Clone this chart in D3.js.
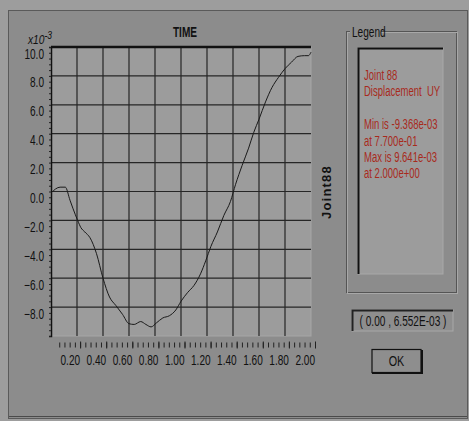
<!DOCTYPE html>
<html>
<head>
<meta charset="utf-8">
<script src="https://cdn.jsdelivr.net/npm/d3@7"></script>
<style>
  body { margin: 0; background: #9a9a9a; }
  svg { display: block; }
  text { font-family: "Liberation Sans", Arial, sans-serif; }
</style>
</head>
<body>
<div id="chart-area"></div>
<script>
// time history of Joint 88, displacement UY (x10^-3)
const time = [0, 0.07, 0.11, 0.146, 0.17, 0.205, 0.23, 0.26, 0.3, 0.35, 0.4, 0.45, 0.5, 0.55, 0.6, 0.64, 0.69, 0.73, 0.77, 0.81, 0.86, 0.91, 0.96, 1.0, 1.05, 1.1, 1.15, 1.19, 1.23, 1.28, 1.33, 1.38, 1.42, 1.47, 1.52, 1.56, 1.6, 1.65, 1.7, 1.75, 1.8, 1.85, 1.9, 1.95, 1.98, 2.0];
const uy = [-0.1, 0.3, 0.3, -0.6, -1.2, -2.0, -2.5, -2.8, -3.2, -4.3, -6.0, -7.3, -7.9, -8.5, -9.15, -9.2, -9.0, -9.2, -9.37, -9.1, -8.75, -8.6, -8.2, -7.6, -7.0, -6.5, -5.7, -4.8, -3.8, -2.8, -1.65, -0.7, 0.5, 1.8, 3.0, 4.1, 5.0, 6.2, 7.2, 7.9, 8.5, 8.95, 9.35, 9.4, 9.4, 9.64];

const xTicks = [0.2, 0.4, 0.6, 0.8, 1.0, 1.2, 1.4, 1.6, 1.8, 2.0];
const yTicks = [10, 8, 6, 4, 2, 0, -2, -4, -6, -8];
const legendLines = ["Joint 88", "Displacement  UY", "", "Min is -9.368e-03", "at 7.700e-01", "Max is 9.641e-03", "at 2.000e+00"];
const cursorText = "( 0.00 , 6.552E-03 )";

const W = 469, H = 421;
const plot = {left: 51, right: 311, top: 47, bottom: 336};
const narrow = 0.72;   // old dialog font is very condensed

const svg = d3.select("#chart-area").append("svg")
    .attr("width", W).attr("height", H);

// condensed text helper
function label(parent, x, y, str, size, anchor, fill, sx) {
    return parent.append("text")
        .attr("transform", `translate(${x},${y}) scale(${sx || narrow},1)`)
        .attr("font-size", size)
        .attr("text-anchor", anchor || "start")
        .attr("fill", fill || "#111")
        .attr("xml:space", "preserve")
        .text(str);
}

// dialog frame
svg.append("rect").attr("x", 0).attr("y", 0).attr("width", W).attr("height", H).attr("fill", "#9d9d9d");
svg.append("rect").attr("x", 8.5).attr("y", 10.5).attr("width", 459).attr("height", 408)
   .attr("fill", "#8c8c8c").attr("stroke", "#5a5a5a").attr("stroke-width", 1);
svg.append("line").attr("x1", 9).attr("x2", 467).attr("y1", 416.5).attr("y2", 416.5).attr("stroke", "#4a4a4a");

var xScale = d3.scaleLinear().domain([0, 2]).range([plot.left, plot.right]);
var yScale = d3.scaleLinear().domain([-10, 10]).range([plot.bottom, plot.top]);
// the ruler under the plot sits a little to the right of the grid
var rulerScale = d3.scaleLinear().domain([0, 2]).range([54, 315]);

// plot background
svg.append("rect")
   .attr("x", plot.left).attr("y", plot.top)
   .attr("width", plot.right - plot.left).attr("height", plot.bottom - plot.top)
   .attr("fill", "#9c9c9c").attr("stroke", "#a6a6a6");

// grid
svg.append("g").selectAll("line").data(xTicks.slice(0, -1)).enter().append("line")
   .attr("x1", d => xScale(d)).attr("x2", d => xScale(d))
   .attr("y1", plot.top).attr("y2", plot.bottom)
   .attr("stroke", "#262626").attr("stroke-width", 1.2);
svg.append("g").selectAll("line").data(yTicks.slice(1)).enter().append("line")
   .attr("x1", plot.left).attr("x2", plot.right)
   .attr("y1", d => yScale(d)).attr("y2", d => yScale(d))
   .attr("stroke", "#262626").attr("stroke-width", 1.2);

// top border + left axis
svg.append("line").attr("x1", plot.left).attr("x2", plot.right).attr("y1", plot.top).attr("y2", plot.top)
   .attr("stroke", "#111").attr("stroke-width", 2.5);

var yAxis = d3.axisLeft(yScale)
    .tickValues(d3.range(-10, 10.01, 0.4))
    .tickSize(2).tickFormat("");
svg.append("g").attr("transform", `translate(${plot.left},0)`).call(yAxis)
   .call(g => g.select(".domain").attr("stroke", "#111").attr("stroke-width", 1.5))
   .call(g => g.selectAll(".tick line").attr("stroke", "#222"));

var yLabels = svg.append("g");
yTicks.forEach(d => label(yLabels, 44, yScale(d) + 11.5, d3.format(".1f")(d), 14, "end"));

// x ruler
var rulerMinor = d3.axisBottom(rulerScale).tickValues(d3.range(0.04, 2.001, 0.04)).tickSize(5).tickFormat("");
svg.append("g").attr("transform", "translate(0,342.5)").call(rulerMinor)
   .call(g => g.select(".domain").remove())
   .call(g => g.selectAll(".tick line").attr("stroke", "#222"));
var rulerMajor = d3.axisBottom(rulerScale).tickValues(xTicks).tickSize(7).tickFormat("");
svg.append("g").attr("transform", "translate(0,341.5)").call(rulerMajor)
   .call(g => g.select(".domain").remove())
   .call(g => g.selectAll(".tick line").attr("stroke", "#222"));
var xLabels = svg.append("g");
xTicks.forEach(d => label(xLabels, rulerScale(d), 365, d3.format(".2f")(d), 14, "end"));

// curve
var line = d3.line().x((d, i) => xScale(time[i])).y(d => yScale(d)).curve(d3.curveMonotoneX);
svg.append("path").datum(uy).attr("d", line)
   .attr("fill", "none").attr("stroke", "#1a1a1a").attr("stroke-width", 1);

// titles
label(svg, 185, 37, "TIME", 14, "middle").attr("font-weight", "bold");
var mult = svg.append("text")
   .attr("transform", "translate(28,44) scale(0.85,1)")
   .attr("font-size", 12).attr("font-style", "italic").attr("fill", "#111");
mult.append("tspan").text("x10");
mult.append("tspan").attr("dy", -5).attr("font-size", 10).text("-3");

svg.append("text").attr("transform", "translate(331,192) rotate(-90)")
   .attr("text-anchor", "middle").attr("font-size", 13).attr("font-weight", "bold")
   .attr("letter-spacing", 1.2)
   .attr("fill", "#111").text("Joint88");

// legend group box (etched)
svg.append("rect").attr("x", 346.5).attr("y", 31.5).attr("width", 110).attr("height", 261)
   .attr("fill", "none").attr("stroke", "#555");
svg.append("rect").attr("x", 347.5).attr("y", 32.5).attr("width", 110).attr("height", 261)
   .attr("fill", "none").attr("stroke", "#a8a8a8");
svg.append("rect").attr("x", 350).attr("y", 24).attr("width", 31).attr("height", 14).attr("fill", "#8c8c8c");
label(svg, 352, 37, "Legend", 14);

// legend inner panel
svg.append("rect").attr("x", 358).attr("y", 48).attr("width", 85).attr("height", 226)
   .attr("fill", "#9c9c9c").attr("stroke", "#a8a8a8");
svg.append("path").attr("d", "M358.5,274 V48.5 H443")
   .attr("fill", "none").attr("stroke", "#111").attr("stroke-width", 2);
var legendText = svg.append("g");
legendLines.forEach((d, i) => label(legendText, 364, 80 + i * 16.4, d, 14, "start", "#a82a1c", 0.68));

// cursor readout box
svg.append("rect").attr("x", 352).attr("y", 310).attr("width", 101).attr("height", 21)
   .attr("fill", "#8e8e8e").attr("stroke", "#a8a8a8");
svg.append("path").attr("d", "M352.5,331 V310.5 H453")
   .attr("fill", "none").attr("stroke", "#222").attr("stroke-width", 2);
label(svg, 403, 326, cursorText, 14, "middle");

// OK button
svg.append("rect").attr("x", 372).attr("y", 349.5).attr("width", 49).attr("height", 23)
   .attr("fill", "#8e8e8e").attr("stroke", "#111").attr("stroke-width", 1.2);
svg.append("path").attr("d", "M372,373 H422 V350")
   .attr("fill", "none").attr("stroke", "#111").attr("stroke-width", 2);
label(svg, 396.5, 366, "OK", 15, "middle");
</script>
</body>
</html>
